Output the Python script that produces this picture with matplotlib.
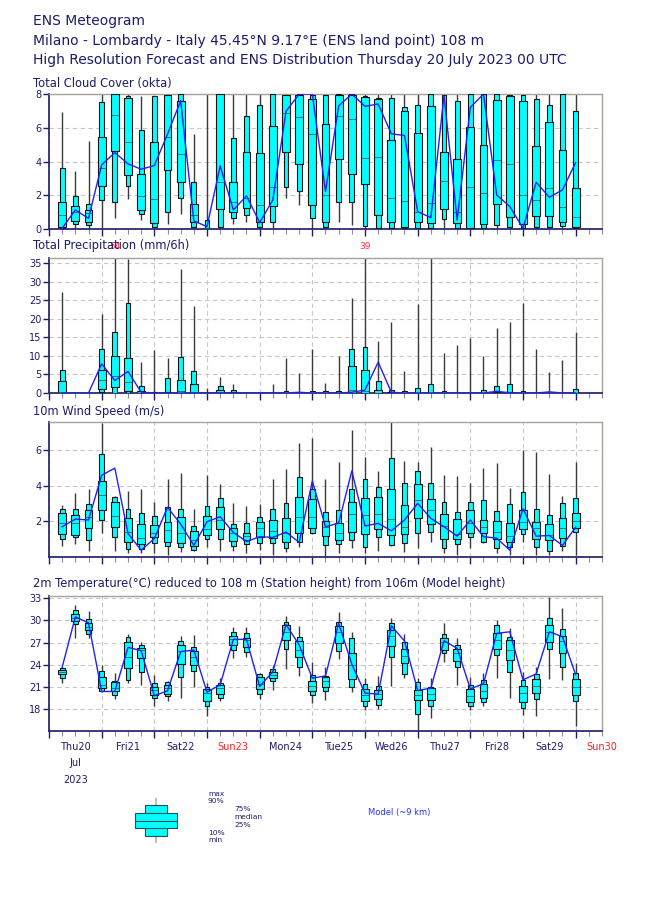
import numpy as np
import matplotlib
matplotlib.use('Agg')
import matplotlib.pyplot as plt
from matplotlib.ticker import MultipleLocator

NAVY = '#1c1c6c'

# forecast steps (hours from Thu 20 Jul 2023 00 UTC)
steps = list(range(6, 241, 6))
day_names = ['Thu20', 'Fri21', 'Sat22', 'Sun23', 'Mon24', 'Tue25', 'Wed26',
             'Thu27', 'Fri28', 'Sat29', 'Sun30']

# Total cloud cover (okta)
cc_max = [6.93, 3.45, 5.19, 8, 8, 8, 7.86, 7.9, 8, 8, 5.64, 8, 8, 8, 8, 8, 8, 8, 8, 8,
          7.96, 8, 8, 8, 8, 8, 8, 8, 8, 8, 8, 8, 8, 8, 8, 8, 8, 8, 8, 8]
cc_p90 = [3.64, 1.96, 1.47, 7.52, 8, 7.86, 5.86, 7.9, 7.96, 8, 2.81, 0.53, 8, 5.39, 6.67, 7.33, 8, 7.96, 8, 7.96,
          7.96, 8, 8, 7.86, 7.76, 7.76, 7.21, 7.33, 8, 7.96, 7.56, 8, 8, 8, 7.92, 7.96, 7.72, 7.33, 8, 7.01]
cc_p75 = [1.58, 1.39, 1.11, 5.43, 8, 7.76, 3.25, 5.15, 7.92, 7.56, 1.49, 0.08, 8, 2.81, 4.59, 4.5, 6.08, 7.92, 7.96, 7.72,
          6.22, 7.96, 7.96, 7.8, 7.72, 5.25, 6.97, 5.66, 7.27, 4.55, 4.16, 6.02, 4.95, 7.66, 7.86, 7.58, 4.93, 6.36, 4.69, 2.42]
cc_med = [0.83, 1.03, 0.93, 3.6, 6.77, 5.13, 1.96, 1.76, 5.43, 4.44, 0.83, 0.04, 2.81, 1.62, 1.82, 1.43, 2.51, 6.87, 6.63, 5.62,
          2.02, 6.67, 6.53, 4.2, 4.26, 1.82, 1.68, 1.0, 1.52, 2.87, 1.03, 2.46, 2.12, 4.06, 3.86, 2.02, 1.7, 2.42, 1.29, 0.69]
cc_p25 = [0.14, 0.48, 0.44, 2.53, 4.65, 3.21, 1.11, 0.38, 3.49, 2.81, 0.44, 0.02, 1.19, 0.99, 1.23, 0.4, 1.37, 4.55, 3.86, 1.43,
          0.44, 4.16, 3.27, 2.65, 0.83, 0.44, 0.14, 0.4, 0.36, 1.19, 0.34, 0.08, 0.28, 1.49, 0.73, 0.28, 0.77, 0.77, 0.44, 0.14]
cc_p10 = [0.04, 0.28, 0.24, 1.74, 1.62, 2.57, 0.87, 0.14, 1.03, 1.82, 0.14, 0.0, 0.14, 0.63, 0.83, 0.14, 0.44, 2.46, 2.28, 0.63,
          0.14, 1.62, 1.58, 0.2, 0.08, 0.08, 0.04, 0.08, 0.04, 0.59, 0.04, 0.04, 0.04, 0.24, 0.14, 0.08, 0.14, 0.14, 0.2, 0.04]
cc_min = [0, 0.05, 0, 0, 0.67, 1.76, 0.55, 0, 0.28, 0.87, 0, 0, 0, 0.28, 0.44, 0, 0, 1.82, 1.43, 0,
          0, 0.44, 0.24, 0, 0, 0, 0, 0, 0, 0.04, 0, 0, 0, 0, 0, 0, 0, 0, 0, 0]
cc_hres = [0.04, 1.13, 0.63, 3.8, 4.53, 3.86, 3.54, 3.76, 5.62, 7.6, 0.48, 0.14, 3.74, 1.13, 1.96, 0.38, 1.72, 6.97, 8, 8,
           2.22, 7.3, 8, 7.27, 7.41, 5.64, 5.54, 1.03, 0.67, 7.92, 0.53, 7.21, 8, 2.02, 1.33, 0.04, 2.77, 1.88, 2.32, 3.94]

# Total precipitation (mm/6h)
pr_max = [27.3, 0, 0, 21.4, 54, 36.2, 8.3, 11.5, 9.4, 33.45, 23.5, 1.27, 4.25, 2.44, 0, 0, 2.44, 9.4, 5.33, 11.75,
          2.7, 9.95, 25.7, 39, 13.9, 19.0, 5.9, 24.0, 36.3, 10.7, 12.9, 14.9, 10.0, 17.5, 19.0, 24.2, 11.9, 5.6, 9.0, 16.5]
pr_p90 = [6.3, 0, 0, 11.75, 16.3, 24.3, 2.0, 0.36, 3.98, 9.58, 5.88, 0, 2.0, 0.8, 0, 0, 0, 0.55, 0.05, 0.63,
          0.45, 0.55, 11.75, 12.4, 3.35, 0.8, 0.63, 1.36, 2.53, 0.45, 0, 0, 0.7, 1.9, 2.53, 0.63, 0, 0, 0, 1.08]
pr_p75 = [3.35, 0, 0, 6.06, 9.95, 9.5, 0.55, 0.1, 0.36, 3.53, 2.53, 0, 0.8, 0.3, 0, 0, 0, 0.1, 0, 0.1,
          0.05, 0.1, 7.3, 6.24, 0.8, 0.3, 0.1, 0.1, 0.1, 0.05, 0, 0, 0.1, 0.36, 0.2, 0.1, 0, 0, 0, 0.1]
pr_med = [0.3, 0, 0, 3.6, 4.7, 2.9, 0.1, 0, 0.05, 0.63, 0.2, 0, 0.2, 0.05, 0, 0, 0, 0, 0, 0,
          0, 0, 0.8, 0.6, 0.1, 0, 0, 0, 0, 0, 0, 0, 0, 0.05, 0, 0, 0, 0, 0, 0]
pr_p25 = [0.1, 0, 0, 1.08, 1.54, 0.45, 0, 0, 0, 0.1, 0, 0, 0, 0, 0, 0, 0, 0, 0, 0,
          0, 0, 0.1, 0.1, 0, 0, 0, 0, 0, 0, 0, 0, 0, 0, 0, 0, 0, 0, 0, 0]
pr_p10 = [0, 0, 0, 0.18, 0.1, 0, 0, 0, 0, 0, 0, 0, 0, 0, 0, 0, 0, 0, 0, 0,
          0, 0, 0, 0, 0, 0, 0, 0, 0, 0, 0, 0, 0, 0, 0, 0, 0, 0, 0, 0]
pr_min = [0] * 40
pr_hres = [0, 0, 0, 7.87, 3.35, 5.8, 0.2, 0, 0, 0, 0, 0, 0, 0, 0, 0, 0, 0, 0.2, 0,
           0, 0, 0.2, 0.8, 8.3, 0.2, 0, 0, 0, 0, 0, 0, 0, 0.45, 0.05, 0, 0, 0.3, 0, 0]

# 10m wind speed (m/s)
ws_max = [2.92, 3.58, 3.84, 7.52, 3.4, 3.71, 3.82, 3.11, 4.4, 4.7, 2.69, 4.61, 4.08, 3.05, 2.86, 2.98, 4.38, 4.93, 6.39, 6.69,
          4.36, 5.36, 7.11, 5.64, 4.84, 7.58, 5.38, 5.34, 6.15, 4.61, 4.53, 4.14, 4.99, 5.27, 3.86, 5.98, 5.92, 4.65, 3.45, 5.36]
ws_p90 = [2.71, 2.69, 2.96, 5.77, 3.35, 2.71, 2.45, 2.28, 2.83, 2.71, 1.74, 2.86, 3.3, 1.83, 1.89, 2.26, 2.69, 3.01, 4.5, 3.82,
          2.5, 2.64, 3.82, 4.4, 3.92, 5.55, 4.14, 4.84, 4.14, 3.09, 2.53, 3.11, 3.2, 2.58, 2.96, 3.67, 2.68, 2.36, 3.01, 3.33]
ws_p75 = [2.45, 2.34, 2.64, 4.27, 3.11, 2.17, 1.83, 1.77, 1.98, 2.23, 1.46, 2.3, 2.83, 1.64, 1.32, 1.94, 2.08, 2.21, 3.39, 3.24,
          2.04, 1.92, 3.11, 3.33, 3.39, 3.82, 2.9, 4.08, 3.24, 2.39, 2.13, 2.64, 2.08, 2.02, 1.89, 2.64, 1.98, 1.85, 2.17, 2.49]
ws_med = [1.89, 1.92, 2.23, 3.48, 2.3, 1.38, 1.08, 1.32, 1.51, 1.32, 0.95, 1.55, 2.08, 1.32, 1.19, 1.61, 1.46, 1.36, 2.23, 2.26,
          1.7, 1.32, 2.39, 2.36, 2.39, 2.11, 1.66, 3.2, 2.64, 1.74, 1.27, 1.89, 1.7, 1.42, 1.17, 1.98, 1.61, 1.23, 1.61, 2.04]
ws_p25 = [1.27, 1.23, 1.62, 2.64, 1.68, 0.82, 0.72, 1.1, 0.84, 0.76, 0.63, 1.23, 1.59, 0.91, 0.95, 1.14, 1.04, 0.85, 1.36, 1.61,
          1.19, 0.95, 1.38, 1.29, 1.55, 1.23, 1.27, 2.17, 1.83, 0.99, 0.99, 1.36, 1.36, 0.99, 0.84, 1.55, 0.99, 0.95, 1.08, 1.61]
ws_p10 = [0.99, 1.1, 0.95, 2.08, 1.14, 0.44, 0.44, 0.76, 0.61, 0.55, 0.38, 1.0, 0.99, 0.61, 0.72, 0.8, 0.8, 0.52, 0.85, 1.32,
          0.69, 0.72, 0.95, 0.57, 1.14, 0.65, 0.8, 1.32, 1.4, 0.48, 0.72, 1.14, 0.85, 0.48, 0.57, 1.27, 0.57, 0.35, 0.63, 1.42]
ws_min = [0.61, 0.72, 0.35, 1.32, 0.35, 0.2, 0.2, 0.2, 0.1, 0.29, 0.36, 0.57, 0.35, 0.35, 0.2, 0.42, 0.1, 0.29, 0.55, 1.29,
          0.01, 0.25, 0.48, 0.2, 0.35, 0.62, 0.29, 0.52, 0.85, 0.2, 0.1, 0.52, 0.76, 0.2, 0.1, 0.85, 0.1, 0.1, 0.35, 0.1]
ws_hres = [1.7, 2.13, 2.08, 4.59, 4.99, 1.32, 0.38, 1.04, 2.79, 1.85, 0.65, 1.98, 2.26, 1.38, 0.87, 1.14, 1.1, 1.4, 0.82, 4.27,
           1.7, 1.9, 4.84, 1.74, 1.89, 1.47, 2.08, 3.01, 2.17, 1.7, 1.17, 2.08, 1.14, 1.06, 0.38, 2.71, 1.17, 1.21, 0.65, 1.68]

# 2m temperature (C)
t_max = [23.66, 32.05, 31.25, 23.97, 22.85, 28.1, 27.12, 22.63, 21.82, 27.92, 28.0, 21.5, 22.18, 29.14, 29.05, 22.85, 23.97, 30.57, 29.23, 24.33,
         23.75, 31.1, 28.37, 22.27, 22.49, 30.26, 28.1, 22.18, 22.18, 29.59, 27.56, 22.31, 22.94, 30.03, 28.91, 23.07, 23.75, 33.18, 31.61, 24.29]
t_p90 = [23.52, 31.47, 30.17, 23.21, 21.82, 27.79, 26.67, 21.5, 21.64, 27.21, 26.44, 21.05, 21.5, 28.46, 28.24, 22.71, 23.39, 29.81, 27.79, 22.63,
         22.49, 29.81, 27.56, 21.41, 21.14, 29.59, 27.12, 21.64, 20.96, 28.1, 26.67, 21.28, 21.95, 29.36, 27.79, 21.95, 22.76, 30.26, 28.78, 22.85]
t_p75 = [23.3, 30.8, 29.67, 22.4, 21.6, 27.03, 26.22, 21.05, 21.28, 26.67, 25.86, 20.69, 21.28, 27.88, 27.65, 22.31, 23.07, 29.36, 27.21, 21.82,
         22.31, 29.23, 25.63, 20.69, 20.6, 28.69, 26.13, 20.6, 20.83, 27.56, 26.13, 20.69, 21.41, 28.24, 27.34, 21.14, 22.09, 29.36, 27.92, 22.04]
t_med = [22.98, 30.35, 29.14, 21.28, 20.83, 25.1, 25.99, 20.6, 20.83, 25.86, 25.1, 20.16, 20.83, 27.43, 27.34, 21.37, 22.63, 28.46, 25.99, 21.14,
         21.73, 28.46, 23.97, 19.93, 20.02, 27.88, 25.18, 19.89, 20.02, 27.12, 25.54, 19.71, 20.51, 27.34, 25.99, 20.16, 21.14, 28.46, 27.21, 20.92]
t_p25 = [22.71, 29.9, 28.69, 20.83, 20.38, 23.61, 24.87, 19.93, 20.02, 24.11, 23.97, 19.12, 20.07, 26.67, 26.44, 20.69, 22.18, 27.34, 25.0, 20.47,
         21.05, 26.98, 22.04, 19.03, 19.35, 26.58, 24.2, 19.26, 19.17, 25.99, 24.56, 18.9, 19.48, 26.13, 24.65, 18.9, 20.16, 27.12, 25.54, 19.93]
t_p10 = [22.18, 29.5, 28.1, 20.38, 19.93, 21.95, 23.07, 19.48, 19.7, 22.31, 23.21, 18.45, 19.53, 25.99, 25.77, 20.02, 21.73, 26.13, 23.75, 19.93,
         20.38, 25.9, 21.05, 18.45, 18.58, 25.1, 22.71, 17.37, 18.36, 25.54, 23.75, 18.36, 18.9, 25.32, 23.07, 18.13, 19.35, 26.08, 23.75, 19.03]
t_min = [21.5, 27.56, 27.56, 20.25, 19.35, 21.5, 21.28, 18.36, 19.03, 19.48, 21.05, 17.1, 19.12, 24.96, 25.0, 19.39, 20.6, 23.39, 22.49, 18.81,
         19.26, 24.8, 20.29, 17.82, 18.0, 21.14, 22.18, 15.2, 16.79, 24.42, 21.28, 17.82, 18.36, 22.18, 19.48, 17.24, 17.01, 22.04, 21.95, 15.67]
t_hres = [23.66, 30.48, 29.67, 20.38, 20.38, 26.35, 25.9, 19.8, 20.47, 25.77, 25.99, 20.29, 21.28, 27.43, 27.43, 21.05, 23.07, 29.45, 26.67, 22.18,
          22.49, 29.59, 24.06, 20.16, 20.02, 29.27, 27.21, 20.51, 20.83, 27.25, 26.22, 20.74, 21.41, 28.24, 28.46, 21.95, 22.76, 28.46, 27.79, 22.63]


def px(x, y, w, h):
    # axes rectangle from pixel box (top-left origin)
    return [x / 650, 1 - (y + h) / 916, w / 650, h / 916]


def draw_panel(ax, mn, p10, p25, med, p75, p90, mx, hres):
    x = np.array(steps)
    ax.vlines(x, mn, mx, color='#3a3a3a', lw=1.0, zorder=2)
    ax.bar(x, np.subtract(p90, p10), bottom=p10, width=2.2, color='#00ffff',
           edgecolor='#151515', lw=0.8, zorder=3)
    ax.bar(x, np.subtract(p75, p25), bottom=p25, width=3.5, color='#00ffff',
           edgecolor='#151515', lw=0.8, zorder=4)
    ax.hlines(med, x - 1.75, x + 1.75, color='#306060', lw=0.6, zorder=5)
    ax.plot(x, hres, color='#2020ff', lw=1.0, zorder=6)

    ax.set_xlim(0, 252)
    ax.xaxis.set_major_locator(MultipleLocator(24))
    ax.xaxis.set_minor_locator(MultipleLocator(6))
    ax.set_xticklabels([])
    ax.tick_params(axis='x', which='major', length=5, width=1, color=NAVY)
    ax.tick_params(axis='x', which='minor', length=3.5, width=0.8, color='#8a8ab0')
    ax.tick_params(axis='y', length=4, width=1, color=NAVY, labelcolor=NAVY, labelsize=7, pad=1.5)
    ax.grid(True, which='major', color='#c8c8c8', lw=0.8, ls=(0, (4, 3)), zorder=0)
    for s in ['top', 'right']:
        ax.spines[s].set_color('#a8a298')
        ax.spines[s].set_linewidth(1)
    for s in ['left', 'bottom']:
        ax.spines[s].set_color('#2b2b70')
        ax.spines[s].set_linewidth(1.3)


fig = plt.figure(figsize=(6.5, 9.16), dpi=100)

# titles
fig.text(33 / 650, 1 - 21 / 916, 'ENS Meteogram', fontsize=10, color=NAVY, va='center')
fig.text(33 / 650, 1 - 41 / 916, 'Milano - Lombardy - Italy 45.45°N 9.17°E (ENS land point) 108 m',
         fontsize=10, color=NAVY, va='center')
fig.text(33 / 650, 1 - 60 / 916,
         'High Resolution Forecast and ENS Distribution Thursday 20 July 2023 00 UTC',
         fontsize=10, color=NAVY, va='center')

# cloud cover
ax1 = fig.add_axes(px(49, 94, 553, 135))
draw_panel(ax1, cc_min, cc_p10, cc_p25, cc_med, cc_p75, cc_p90, cc_max, cc_hres)
ax1.set_ylim(0, 8)
ax1.set_yticks([0, 2, 4, 6, 8])
fig.text(33 / 650, 1 - 83 / 916, 'Total Cloud Cover (okta)', fontsize=8.3, color=NAVY, va='center')

# precipitation
ax2 = fig.add_axes(px(49, 258, 553, 135))
draw_panel(ax2, pr_min, pr_p10, pr_p25, pr_med, pr_p75, pr_p90, pr_max, pr_hres)
ax2.set_ylim(0, 36.35)
ax2.set_yticks(range(0, 36, 5))
fig.text(33 / 650, 1 - 245 / 916, 'Total Precipitation (mm/6h)', fontsize=8.3, color=NAVY, va='center')
top2 = ax2.get_ylim()[1]
for s, m in zip(steps, pr_max):
    if m > top2:
        ax2.text(s, 1.085, f'{m:.0f}', transform=ax2.get_xaxis_transform(),
                 color='#ff3030', fontsize=6.5, ha='center', va='center')

# wind
ax3 = fig.add_axes(px(49, 422, 553, 135))
draw_panel(ax3, ws_min, ws_p10, ws_p25, ws_med, ws_p75, ws_p90, ws_max, ws_hres)
ax3.set_ylim(0, 7.58)
ax3.set_yticks([2, 4, 6])
fig.text(33 / 650, 1 - 411 / 916, '10m Wind Speed (m/s)', fontsize=8.3, color=NAVY, va='center')

# temperature
ax4 = fig.add_axes(px(49, 596, 553, 135))
draw_panel(ax4, t_min, t_p10, t_p25, t_med, t_p75, t_p90, t_max, t_hres)
ax4.set_ylim(15.03, 33.3)
ax4.set_yticks(range(18, 34, 3))
fig.text(33 / 650, 1 - 584 / 916,
         '2m Temperature(°C) reduced to 108 m (Station height) from 106m (Model height)',
         fontsize=8.3, color=NAVY, va='center')

# day labels under the last panel
for i, d in enumerate(day_names):
    col = '#ff2020' if d.startswith('Sun') else NAVY
    ax4.text(12 + 24 * i, -0.115, d, transform=ax4.get_xaxis_transform(),
             ha='center', va='center', fontsize=7, color=col)
ax4.text(12, -0.24, 'Jul', transform=ax4.get_xaxis_transform(), ha='center', va='center',
         fontsize=7, color=NAVY)
ax4.text(12, -0.36, '2023', transform=ax4.get_xaxis_transform(), ha='center', va='center',
         fontsize=7, color=NAVY)

# legend glyph (pixel coordinates)
lg = fig.add_axes([0, 0, 1, 1])
lg.set_xlim(0, 650)
lg.set_ylim(916, 0)
lg.axis('off')
lg.vlines(156, 798, 843, color='#b0b0b0', lw=1.2, zorder=1)
lg.bar(156, 31, bottom=805, width=22, color='#00ffff', edgecolor='#205050', lw=0.8, zorder=2)
lg.bar(156, 15, bottom=813, width=42, color='#00ffff', edgecolor='#205050', lw=0.8, zorder=3)
lg.hlines(820.5, 135, 177, color='#205050', lw=0.8, zorder=4)
for tx, xx, yy in [('max', 208, 793.5), ('90%', 208, 801), ('75%', 234, 809), ('median', 234, 817),
                   ('25%', 234, 825), ('10%', 208, 833), ('min', 208, 840.5)]:
    lg.text(xx, yy, tx, fontsize=5.4, color=NAVY, va='center', ha='left')
lg.text(368, 813, 'Model (~9 km)', fontsize=6, color='#3030ff', va='center', ha='left')

fig.savefig('out.png', dpi=100)
